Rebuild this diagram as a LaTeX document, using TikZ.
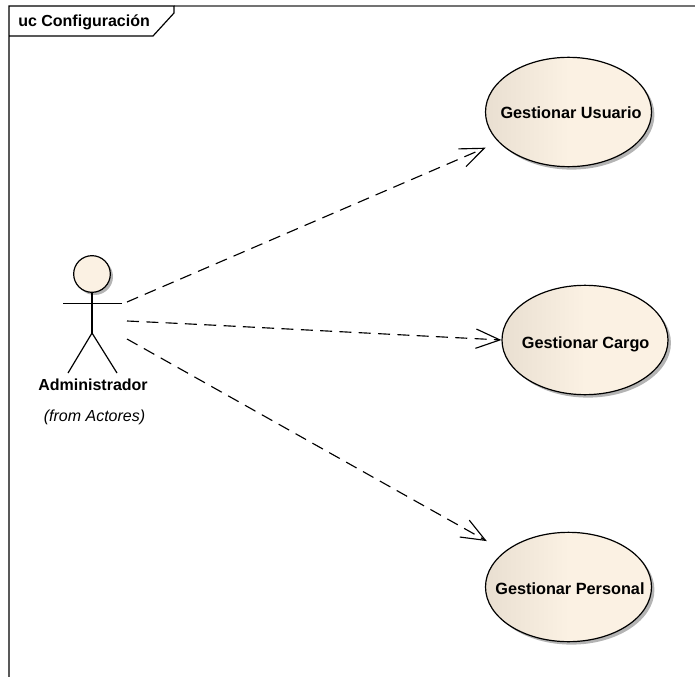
\documentclass[tikz,border=0pt]{standalone}
\usepackage{fontspec}
\setmainfont{Liberation Sans}
\usetikzlibrary{arrows.meta,shadows,calc,shapes.geometric}
\definecolor{ucfill}{HTML}{FBF1E3}
\definecolor{ucdark}{HTML}{E9DFD1}
\definecolor{shadowgray}{HTML}{B4B4B4}
\pgfdeclarehorizontalshading{ucshade}{100bp}{color(0bp)=(ucdark); color(25bp)=(ucdark); color(50bp)=(ucfill); color(100bp)=(ucfill)}
\newcommand{\uctxt}[3]{\raisebox{#2}[0pt][0pt]{\makebox[0pt]{\hspace*{#1}#3}}}
\tikzset{
  px/.style={x=0.75pt,y=-0.75pt},
  usecase/.style={ellipse,draw=black,line width=0.9pt,shading=ucshade,minimum width=124.5pt,minimum height=82pt,inner sep=0pt,font=\fontsize{12.2}{14}\selectfont\bfseries,
    drop shadow={shadow xshift=2.2pt,shadow yshift=-2.2pt,fill=shadowgray,opacity=1}},
  head/.style={circle,draw=black,line width=0.9pt,fill=ucfill,minimum size=27.5pt,inner sep=0pt,
    drop shadow={shadow xshift=2pt,shadow yshift=-2pt,fill=shadowgray,opacity=1}},
  limb/.style={draw=black,line width=0.9pt},
  dep/.style={draw=black,line width=0.85pt,dash pattern=on 9pt off 5.5pt,-{Straight Barb[length=18pt,width=14.5pt,line width=0.85pt]}},
  frameline/.style={draw=black,line width=0.9pt},
  lbl/.style={inner sep=0pt,font=\fontsize{12}{14}\selectfont\bfseries},
}
\begin{document}
\begin{tikzpicture}[px]
\useasboundingbox (0,0) rectangle (695,677);
% frame
\coordinate (ftl) at (9,6);
\coordinate (fbl) at (9,677);
\coordinate (ftr) at (695,6);
\coordinate (tabr) at (174,6);
\draw[draw=black!55,line width=1pt] (tabr) -- (ftr);
\draw[frameline] (fbl) -- (ftl) -- (tabr) -- (174,13) -- (153,36) -- (9,36);
\node[lbl,anchor=west] (title) at (18,22) {uc Configuración};
% use cases
\node[usecase] (uc1) at (568.5,112) {\uctxt{3.8pt}{-5.2pt}{Gestionar Usuario}};
\node[usecase] (uc2) at (585,340) {\uctxt{1pt}{-6.4pt}{Gestionar Cargo}};
\node[usecase] (uc3) at (568.5,587) {\uctxt{2.2pt}{-5.9pt}{Gestionar Personal}};
% actor
\node[head] (head) at (92,274) {};
\coordinate (neck) at (92,333);
\coordinate (lh) at (63,303.5);
\coordinate (rh) at (122,303.5);
\coordinate (lf) at (68,373);
\coordinate (rf) at (117,373);
\draw[limb] (head) -- (neck);
\draw[limb] (lh) -- (rh);
\draw[limb] (lf) -- (neck) -- (rf);
\node[lbl] (actor) at (93,385) {Administrador};
\node[inner sep=0pt,font=\fontsize{12}{14}\selectfont\itshape] (from) at (94.5,417) {(from Actores)};
% connectors
\coordinate (a1) at (127,302);
\coordinate (a2) at (127,321);
\coordinate (a3) at (127,339);
\coordinate (m1) at (170,323);
\coordinate (m2) at (220,325.5);
\draw[dep,shorten >=10.5pt] (a1) -- (uc1);
\draw[dep] (a2) -- (m1) -- (m2) -- (uc2.west);
\draw[dep,shorten >=15.5pt] (a3) -- (uc3);
\end{tikzpicture}
\end{document}
